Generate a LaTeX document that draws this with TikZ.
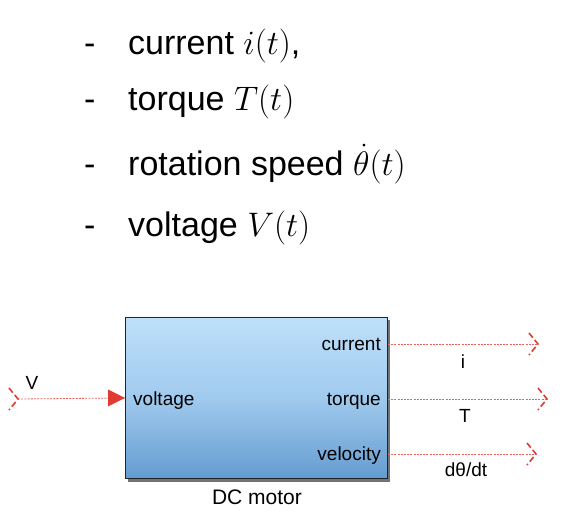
\RequirePackage{fix-cm}
\documentclass[tikz,border=0pt]{standalone}
\usepackage{fontspec}
\setmainfont{Liberation Sans}
\usetikzlibrary{calc,arrows.meta}
\definecolor{sigred}{RGB}{226,58,48}
\definecolor{blocktop}{RGB}{190,224,250}
\definecolor{blockmid}{RGB}{160,202,238}
\definecolor{blockbot}{RGB}{100,156,208}
\definecolor{blockedge}{RGB}{30,36,44}
\tikzset{
  listtext/.style={anchor=base west, inner sep=0pt, font=\fontsize{34}{40}\selectfont},
  listdash/.style={anchor=base west, inner sep=0pt, font=\fontsize{34}{40}\selectfont},
  motorbox/.style={draw=blockedge, line width=0.9pt, top color=blocktop, bottom color=blockbot,
    middle color=blockmid, anchor=north west, inner sep=0pt},
  portlabel/.style={inner sep=0pt, anchor=base, font=\fontsize{19}{22}\selectfont},
  siglabel/.style={inner sep=0pt, anchor=base, font=\fontsize{19}{22}\selectfont},
  namelabel/.style={inner sep=0pt, anchor=base, font=\fontsize{21}{24}\selectfont},
  sig/.style={draw=sigred!80, line width=0.8pt, dash pattern=on 2pt off 1.2pt},
  chev/.style={draw=sigred, line width=1.6pt, dash pattern=on 6pt off 3pt},
}
\begin{document}
\begin{tikzpicture}[x=1pt,y=-1pt]
\useasboundingbox (0,0) rectangle (574,528);

% bullet list of the motor quantities
\node[listdash] (d1) at (84,54) {-};
\node[listtext] (l1) at (128,54) {current $i(t)$,};
\node[listdash] (d2) at (84,110) {-};
\node[listtext] (l2) at (128,110) {torque $T(t)$};
\node[listdash] (d3) at (84,175) {-};
\node[listtext] (l3) at (128,175) {rotation speed $\dot\theta(t)$};
\node[listdash] (d4) at (84,236) {-};
\node[listtext] (l4) at (128,236) {voltage $V(t)$};

% DC motor block with drop shadow
\fill[black!55] (127.5,319.5) rectangle (389.5,481.5);
\node[motorbox, minimum width=262pt, minimum height=161pt] (motor) at (125,317) {};

% port names inside the block
\node[portlabel, anchor=base west] (pvolt) at (133,405) {voltage};
\node[portlabel, anchor=base east] (pcur) at (381,350) {current};
\node[portlabel, anchor=base east] (ptorq) at (381,405) {torque};
\node[portlabel, anchor=base east] (pvel) at (381,460) {velocity};
\node[namelabel] (blockname) at (257,504) {DC motor};

% signal end points
\coordinate (vin) at (18,399);
\coordinate (ocur) at (538,344);
\coordinate (otorq) at (547,399);
\coordinate (ovel) at (536,454);

% input signal with filled arrowhead at the voltage port
\draw[sig] (vin) -- (motor.west);
\fill[sigred] (motor.west) -- ++(-17,-8.5) -- ++(0,17) -- cycle;
\draw[chev] ($(vin)+(-9,-11)$) -- (vin) -- ($(vin)+(-9,11)$);
\node[siglabel] (vlab) at (32,389) {V};

% output signals
\draw[sig] (pcur.base east -| motor.east) ++(0,-6) -- (ocur);
\draw[sig] (ptorq.base east -| motor.east) ++(0,-6) -- (otorq);
\draw[sig] (pvel.base east -| motor.east) ++(0,-6) -- (ovel);
\foreach \p in {ocur,otorq,ovel}
  \draw[chev] ($(\p)+(-9,-11)$) -- (\p) -- ($(\p)+(-9,11)$);

\node[siglabel] (ilab) at (463,368) {i};
\node[siglabel] (tlab) at (465,422) {T};
\node[siglabel] (wlab) at (466,476) {dθ/dt};
\end{tikzpicture}
\end{document}
